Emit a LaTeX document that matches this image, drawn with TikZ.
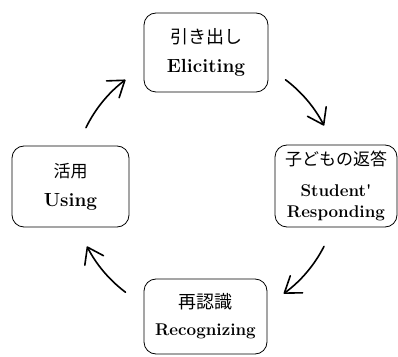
\documentclass[tikz,border=0pt]{standalone}
\usepackage{fontspec}
\newfontfamily\jafont{Noto Sans CJK JP}
\usetikzlibrary{arrows.meta}

\begin{document}
\begin{tikzpicture}[
    x=1pt, y=1pt,
    stage/.style={draw, line width=0.8pt, rounded corners=12pt, align=center,
                  inner sep=0pt, font=\fontsize{18}{21}\selectfont},
    turn/.style={-{Straight Barb[length=15pt, width=21pt, round]},
                 line width=1.6pt, line cap=round},
]
\useasboundingbox (0,0) rectangle (398,356);

%--- Cycle geometry ---
\def\R{133}       % radius of the arrow ring
\coordinate (hub) at (205.5,170);

%--- Stage boxes ---
\node[stage, minimum width=124pt, minimum height=79pt] (elicit) at (206,303.5)
    {{\jafont 引き出し}\\[8pt]{\bfseries\fontsize{19}{21}\selectfont Eliciting}};
\node[stage, minimum width=122pt, minimum height=82pt] (respond) at (336,170)
    {{\jafont\fontsize{17}{21}\selectfont 子どもの返答}\\[10pt]%
     {\bfseries\fontsize{17}{21}\selectfont Student\textquotesingle}\\%
     {\bfseries\fontsize{17}{21}\selectfont Responding}};
\node[stage, minimum width=123pt, minimum height=75pt] (recog) at (205.5,39.5)
    {{\jafont 再認識}\\[6pt]{\bfseries\fontsize{17}{21}\selectfont Recognizing}};
\node[stage, minimum width=117pt, minimum height=81pt] (use) at (70.5,169.5)
    {{\jafont\fontsize{17}{21}\selectfont 活用}\\[8pt]{\bfseries\fontsize{19}{21}\selectfont Using}};

%--- Arrows between the stages (arcs round the hub) ---
\foreach \from/\to [count=\i] in {154/127, 53/27, -27/-54, 233/207} {
    \coordinate (a\i) at ([shift={(\from:\R)}]hub);
    \draw[turn] (a\i) arc[start angle=\from, end angle=\to, radius=\R];
}

\end{tikzpicture}
\end{document}
